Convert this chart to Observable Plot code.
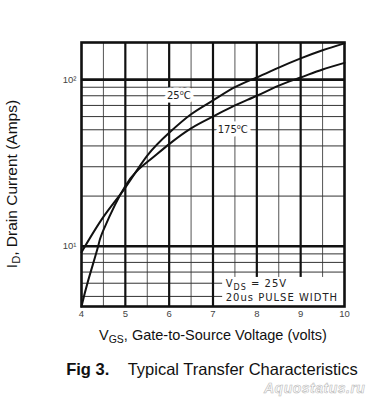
<!DOCTYPE html>
<html>
<head>
<meta charset="utf-8">
<script src="https://cdn.jsdelivr.net/npm/d3@7"></script>
<script src="https://cdn.jsdelivr.net/npm/@observablehq/plot@0.6"></script>
<style>
  body { margin: 0; background: #fff; }
  #wrap { position: relative; width: 379px; height: 400px; font-family: "Liberation Sans", Arial, sans-serif; color: #111; }
  #chart { position: absolute; left: 0; top: 0; }
  .ylab { position: absolute; left: 12px; top: 184px; transform: translate(-50%, -50%) rotate(-90deg); white-space: nowrap; font-size: 15.5px; }
  .xlab { position: absolute; left: 213px; top: 335px; transform: translate(-50%, -50%); white-space: nowrap; font-size: 14.5px; }
  .cap { position: absolute; left: 212px; top: 369px; transform: translate(-50%, -50%); white-space: nowrap; font-size: 16.5px; }
  .wm { position: absolute; left: 264px; top: 380px; font-size: 14px; font-style: italic; font-weight: bold; color: #fff; -webkit-text-stroke: 0.6px #bbb; letter-spacing: 0.5px; }
  sub { font-size: 0.72em; vertical-align: -0.25em; line-height: 0; }
</style>
</head>
<body>
<div id="wrap">
  <div id="chart"></div>
  <div class="ylab">I<sub>D</sub>, Drain Current (Amps)</div>
  <div class="xlab">V<sub>GS</sub>, Gate-to-Source Voltage (volts)</div>
  <div class="cap"><b>Fig 3.</b>&nbsp;&nbsp;&nbsp;&nbsp;Typical Transfer Characteristics</div>
  <div class="wm">Aquostatus.ru</div>
</div>
<script>
// Tick values
const xTicks = [4, 5, 6, 7, 8, 9, 10];
const yTicks = [10, 100];
const yTickLabels = ["10\u00B9", "10\u00B2"];

// Grid lines
const xMajor = [5, 6, 7, 8, 9];
const xMinor = [4.5, 5.5, 6.5, 7.5, 8.5, 9.5];
const yMajor = [10, 100];
const yMinor = [5, 6, 7, 8, 9, 20, 30, 40, 50, 60, 70, 80, 90];

// Series: 25°C
const vgs25 = [4, 4.5, 5, 5.5, 6, 6.5, 7, 7.5, 8, 8.5, 9, 9.5, 10];
const id25  = [9.2, 15, 22.5, 35, 48, 62, 75, 90, 103, 118, 134, 150, 165];

// Series: 175°C
const vgs175 = [4, 4.15, 4.38, 4.5, 5, 5.5, 6, 6.5, 7, 7.5, 8, 8.5, 9, 9.5, 10];
const id175  = [4.35, 6.2, 10, 12.5, 23, 32, 41, 51, 60, 70, 80, 92, 103, 115, 126];

// Curve labels
const curveLabels = [
  {text: "25\u2070C", x: 6.22, y: 80},
  {text: "175\u2070C", x: 7.45, y: 50}
];

// Note box and text
const noteBox = [{x1: 7.22, x2: 10, y1: 4.35, y2: 6.5}];
const notes = [
  {text: "VDS = 25V", x: 7.29, y: 5.95},
  {text: "20us PULSE WIDTH", x: 7.29, y: 4.9}
];

const yDomain = [4.35, 167];

const s25 = vgs25.map((v, i) => ({v, id: id25[i]}));
const s175 = vgs175.map((v, i) => ({v, id: id175[i]}));

const chart = Plot.plot({
  width: 379,
  height: 330,
  marginLeft: 81,
  marginRight: 35,
  marginTop: 42,
  marginBottom: 24,
  style: {fontFamily: "Liberation Sans, Arial, sans-serif", fontSize: "9px", color: "#333", background: "white"},
  x: {domain: [4, 10]},
  y: {type: "log", domain: yDomain},
  marks: [
    Plot.ruleX(xMinor, {stroke: "#555", strokeWidth: 1}),
    Plot.ruleY(yMinor, {stroke: "#333", strokeWidth: 1}),
    Plot.ruleX(xMajor, {stroke: "#111", strokeWidth: 2.2}),
    Plot.ruleY(yMajor, {stroke: "#111", strokeWidth: 2.6}),
    Plot.rect(noteBox, {x1: "x1", x2: "x2", y1: "y1", y2: "y2", fill: "white"}),
    Plot.line(s25, {x: "v", y: "id", curve: "natural", stroke: "#111", strokeWidth: 2}),
    Plot.line(s175, {x: "v", y: "id", curve: "natural", stroke: "#111", strokeWidth: 2}),
    Plot.text(curveLabels, {x: "x", y: "y", text: "text", fill: "#222", stroke: "white", strokeWidth: 7, fontSize: 10, fontFamily: "DejaVu Sans", textAnchor: "middle"}),
    Plot.text(notes, {x: "x", y: "y", text: "text", fill: "#222", fontSize: 10, fontFamily: "DejaVu Sans", textAnchor: "start"}),
    Plot.frame({stroke: "#111", strokeWidth: 2.6}),
    Plot.axisX(xTicks, {tickSize: 0, tickPadding: 4, label: null, fontSize: 9.5, fill: "#444"}),
    Plot.axisY(yTicks, {tickSize: 0, tickPadding: 5, label: null, fontSize: 9.5, fill: "#444", tickFormat: (d) => yTickLabels[yTicks.indexOf(d)]})
  ]
});
document.getElementById("chart").appendChild(chart);

// Subscript for V_DS
chart.querySelectorAll("text").forEach(t => {
  if (t.textContent === "VDS = 25V") {
    t.innerHTML = 'V<tspan dy="3" font-size="8">DS</tspan><tspan dy="-3"> = 25V</tspan>';
  }
});
chart.querySelectorAll("text").forEach(t => {
  if (t.textContent === "20us PULSE WIDTH" || t.textContent.startsWith("VDS")) t.setAttribute("letter-spacing", "1");
});
</script>
</body>
</html>
